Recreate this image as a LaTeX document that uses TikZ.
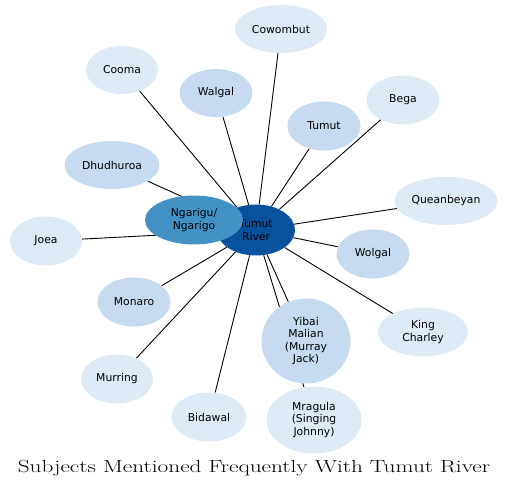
\documentclass[tikz,border=0pt]{standalone}
\usepackage{fontspec}
\newfontfamily\labelfont{DejaVu Sans}
\usepackage{graphicx}
\usepackage{tikz}
\usetikzlibrary{
	positioning,
	shapes.geometric,
	backgrounds
}
\definecolor{RiverBlue}{RGB}{8,81,156}
\definecolor{PeopleBlue}{RGB}{66,146,198}
\definecolor{PaleBlue}{RGB}{198,219,239}
\definecolor{FaintBlue}{RGB}{222,235,247}

\tikzset{
	subject/.style={
		ellipse,
		inner sep=0pt,
		align=center,
		font=\labelfont\fontsize{10.8}{12.5}\selectfont,
		minimum width=73pt,
		minimum height=49pt
	},
	faint/.style={subject, fill=FaintBlue},
	pale/.style={subject, fill=PaleBlue},
	link/.style={black, line width=0.9pt}
}

\begin{document}
\begin{tikzpicture}[x=1pt,y=-1pt]
	
	\useasboundingbox (0,0) rectangle (509,489);
	
	% Centre
	\node[subject, fill=RiverBlue, minimum width=78pt, minimum height=51pt]
	(tumutriver) at (256,230) {Tumut\\River};
	
	\node[subject, fill=PeopleBlue, minimum width=98pt]
	(ngarigu) at (194,220) {Ngarigu/\\Ngarigo};
	
	% Subjects
	\node[faint, minimum width=92pt, minimum height=48pt] (cowombut) at (281,29) {Cowombut};
	\node[faint, minimum width=72pt, minimum height=48pt] (cooma) at (122,70) {Cooma};
	\node[pale, minimum height=48pt] (walgal) at (216,93) {Walgal};
	\node[pale] (tumut) at (324,126) {Tumut};
	\node[faint] (bega) at (403,100) {Bega};
	\node[pale, minimum width=95pt, minimum height=48pt] (dhudhuroa) at (112,165) {Dhudhuroa};
	\node[faint, minimum width=103pt, minimum height=48pt] (queanbeyan) at (446,201) {Queanbeyan};
	\node[faint, minimum width=72pt] (joea) at (46,241) {Joea};
	\node[pale] (wolgal) at (373,254) {Wolgal};
	\node[pale] (monaro) at (134,302) {Monaro};
	\node[faint, minimum width=90pt] (kingcharley) at (423,332) {King\\Charley};
	\node[pale, minimum width=89pt, minimum height=85pt] (yibai) at (306,341) {Yibai\\Malian\\(Murray\\Jack)};
	\node[faint, minimum width=72pt] (murring) at (117,379) {Murring};
	\node[faint, minimum width=75pt] (bidawal) at (209,417) {Bidawal};
	\node[faint, minimum width=95pt, minimum height=67pt] (mragula) at (314,420) {Mragula\\(Singing\\Johnny)};
	
	% Connections
	\begin{scope}[on background layer]
		\draw[link] (tumutriver) -- (cowombut);
		\draw[link] (tumutriver) -- (cooma);
		\draw[link] (tumutriver) -- (walgal);
		\draw[link] (tumutriver) -- (tumut);
		\draw[link] (tumutriver) -- (bega);
		\draw[link] (tumutriver) -- (dhudhuroa);
		\draw[link] (tumutriver) -- (queanbeyan);
		\draw[link] (tumutriver) -- (joea);
		\draw[link] (tumutriver) -- (wolgal);
		\draw[link] (tumutriver) -- (monaro);
		\draw[link] (tumutriver) -- (kingcharley);
		\draw[link] (tumutriver) -- (yibai);
		\draw[link] (tumutriver) -- (murring);
		\draw[link] (tumutriver) -- (bidawal);
		\draw[link] (tumutriver) -- (mragula);
	\end{scope}
	
	% Title
	\node (title) at (254,468)
	{\scalebox{1.33}[1]{\fontsize{17.5}{20}\selectfont Subjects Mentioned Frequently With Tumut River}};
	
\end{tikzpicture}
\end{document}
